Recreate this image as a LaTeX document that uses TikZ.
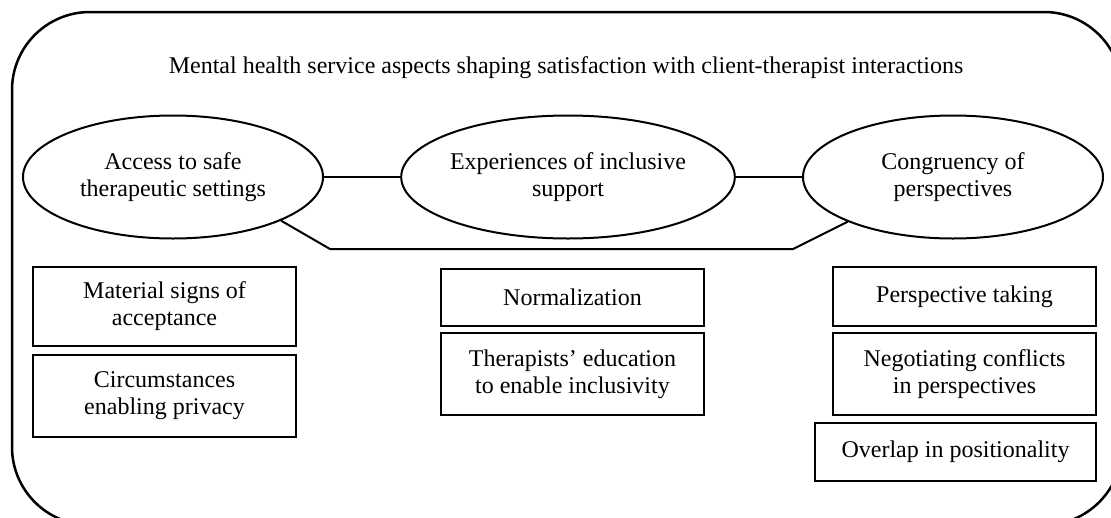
\documentclass[tikz,border=0pt]{standalone}
\usepackage{fontspec}
\setmainfont{Liberation Serif}
\usetikzlibrary{shapes.geometric}
\begin{document}
\begin{tikzpicture}[x=1pt,y=-1pt,
  every node/.style={font=\fontsize{24}{27}\selectfont, align=center, inner sep=0pt},
  theme/.style={ellipse, draw, line width=2pt, minimum width=300pt, minimum height=123pt},
  sub/.style={rectangle, draw, line width=1.1pt, minimum width=263pt},
  link/.style={line width=2pt}]
\useasboundingbox (0,0) rectangle (1111,517);
\clip (0,0) rectangle (1111,517);

% outer frame
\draw[line width=2.5pt, rounded corners=78pt] (12,12) rectangle (1122,525);

% heading
\node (title) at (566,68) {Mental health service aspects shaping satisfaction with client-therapist interactions};

% three themes
\node[theme] (acc) at (173,177) {Access to safe\\therapeutic settings};
\node[theme, minimum width=298pt] (exp) at (568,177) {Experiences of inclusive\\support};
\node[theme] (con) at (953,177) {Congruency of\\perspectives};

% links between themes
\draw[link] (acc.east) -- (exp.west);
\draw[link] (exp.east) -- (con.west);
\coordinate (bl) at (330,249);
\coordinate (br) at (793,249);
\draw[link, line join=miter] (acc.-22.4) -- (bl) -- (br) -- (con.-157.8);

% subthemes
\node[sub, minimum height=79pt] (s1) at (164.5,306.5) {Material signs of\\acceptance};
\node[sub, minimum height=82pt] (s2) at (164.5,396) {Circumstances\\enabling privacy};
\node[sub, minimum height=57pt] (s3) at (572.5,297.5) {Normalization};
\node[sub, minimum height=82pt] (s4) at (572.5,374) {Therapists’ education\\to enable inclusivity};
\node[sub, minimum height=59pt] (s5) at (964.5,296.5) {Perspective taking};
\node[sub, minimum height=82pt] (s6) at (964.5,374) {Negotiating conflicts\\in perspectives};
\node[sub, minimum width=281pt, minimum height=58pt] (s7) at (955.5,452) {Overlap in positionality};
\end{tikzpicture}
\end{document}
